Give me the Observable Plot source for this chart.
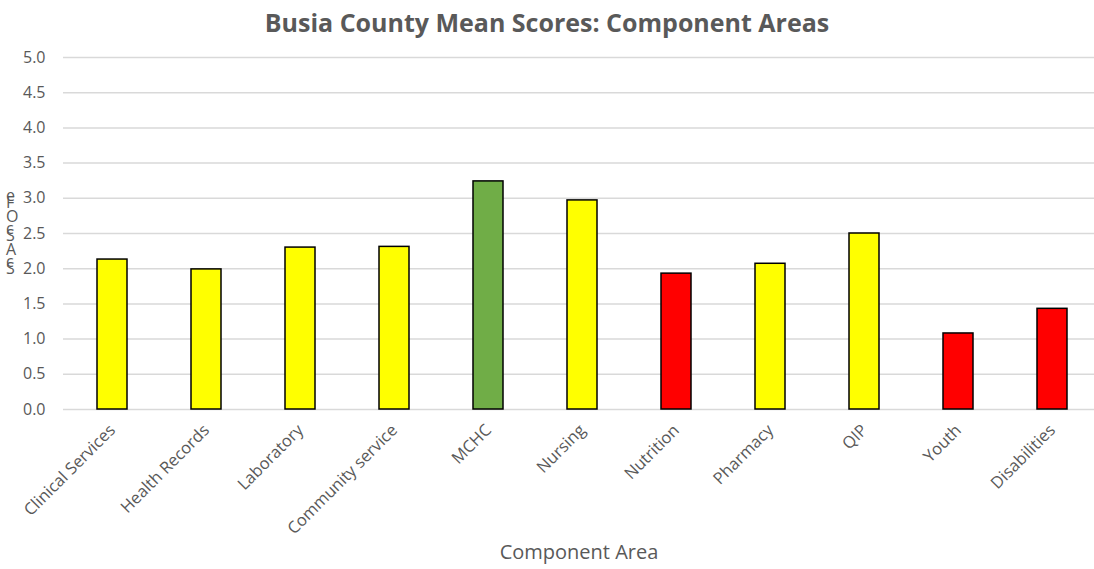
<!DOCTYPE html>
<html>
<head>
<meta charset="utf-8">
<script src="https://cdn.jsdelivr.net/npm/d3@7"></script>
<script src="https://cdn.jsdelivr.net/npm/@observablehq/plot@0.6"></script>
<style>
  html, body { margin: 0; padding: 0; background: #fff; }
  #wrap { position: relative; width: 1094px; height: 569px; overflow: hidden; font-family: "Open Sans", sans-serif; }
  #title { height: 45px; line-height: 45px; text-align: center; font-size: 25px; font-weight: bold; color: #595959; }
  .ylab { position: absolute; font-size: 16px; color: #595959; line-height: 1; }
</style>
</head>
<body>
<div id="wrap">
  <div id="title">Busia County Mean Scores: Component Areas</div>
  <div id="chart"></div>
</div>
<script>
const categories = ["Clinical Services", "Health Records", "Laboratory", "Community service", "MCHC", "Nursing", "Nutrition", "Pharmacy", "QIP", "Youth", "Disabilities"];
const scores = [2.13, 1.99, 2.30, 2.31, 3.24, 2.97, 1.93, 2.07, 2.50, 1.08, 1.43];
const ratings = ["mid", "mid", "mid", "mid", "high", "mid", "low", "mid", "mid", "low", "low"];
const yTicks = [0, 0.5, 1, 1.5, 2, 2.5, 3, 3.5, 4, 4.5, 5];
const yLabelLetters = ["e", "F", "O", "c", "S", "A", "c", "S"];

const data = categories.map((c, i) => ({category: c, score: scores[i], rating: ratings[i]}));

const chart = Plot.plot({
  width: 1094,
  height: 524,
  marginTop: 12,
  marginBottom: 160,
  marginLeft: 63,
  marginRight: 0,
  style: {fontFamily: "'Open Sans', sans-serif", fontSize: "15px", color: "#595959", background: "transparent"},
  x: {domain: categories, range: [63, 1102], paddingInner: 0.68, paddingOuter: 0.34, label: null},
  y: {domain: [0, 5], label: null},
  color: {domain: ["high", "mid", "low"], range: ["#70AD47", "#FFFF00", "#FF0000"]},
  marks: [
    Plot.ruleY(yTicks, {stroke: "#D9D9D9", strokeWidth: 1.5}),
    Plot.barY(data, {x: "category", y: "score", fill: "rating", stroke: "#000", strokeWidth: 1.5}),
    Plot.axisY(yTicks, {tickSize: 0, tickPadding: 18, tickFormat: d3.format(".1f"), fill: "#595959", fontSize: 16, label: null}),
    Plot.axisX({tickSize: 0, tickRotate: -45, tickPadding: 18, fill: "#595959", fontSize: 16.5, label: null}),
    Plot.text(["Component Area"], {frameAnchor: "bottom", dy: 149, fontSize: 20, fill: "#595959"})
  ]
});
document.getElementById("chart").appendChild(chart);

const wrap = document.getElementById("wrap");
const ys = [187, 194, 208, 220, 227, 241, 253, 260];
yLabelLetters.forEach((ch, i) => {
  const s = document.createElement("span");
  s.className = "ylab";
  s.textContent = ch;
  s.style.left = "6px";
  s.style.top = ys[i] + "px";
  wrap.appendChild(s);
});
</script>
</body>
</html>
